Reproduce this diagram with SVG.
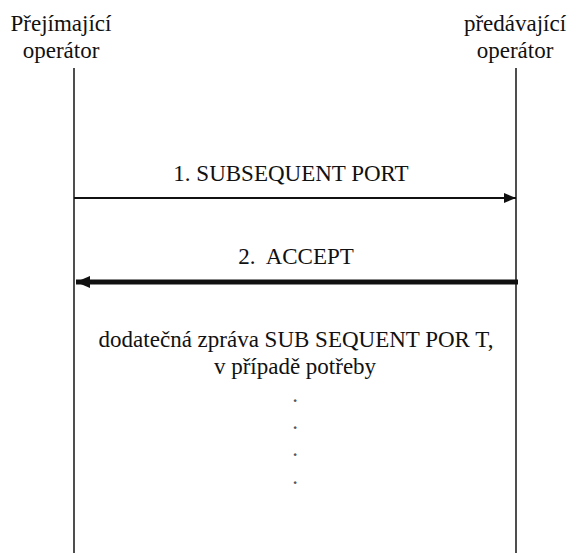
<svg xmlns="http://www.w3.org/2000/svg" width="572" height="553" viewBox="0 0 572 553">
<style>
text{font-family:'Liberation Serif','DejaVu Serif',serif;font-size:23px;fill:#111;text-anchor:middle}
.life{stroke:#222;stroke-width:1.6;fill:none}
.dot{fill:#555}
</style>
<defs>
<marker id="ah" viewBox="0 0 12 10" refX="12" refY="5" markerWidth="12" markerHeight="10" markerUnits="userSpaceOnUse" orient="auto"><path d="M0,0L12,5L0,10z" fill="#111"/></marker>
<marker id="ah2" viewBox="0 0 14 12" refX="14" refY="6" markerWidth="14" markerHeight="12" markerUnits="userSpaceOnUse" orient="auto"><path d="M0,0L14,6L0,12z" fill="#111"/></marker>
</defs>
<rect width="572" height="553" fill="#fff"/>
<g id="node-prejimajici">
<text x="61" y="31">Přejímající</text>
<text x="61" y="58">operátor</text>
</g>
<g id="node-predavajici">
<text x="515" y="31">předávající</text>
<text x="515" y="58">operátor</text>
</g>
<g id="connectors">
<line class="life" x1="74" y1="68" x2="74" y2="553"/>
<line class="life" x1="516" y1="68" x2="516" y2="553"/>
<line x1="74" y1="198" x2="516" y2="198" stroke="#111" stroke-width="2" marker-end="url(#ah)"/>
<line x1="518" y1="282" x2="76" y2="282" stroke="#111" stroke-width="5" marker-end="url(#ah2)"/>
</g>
<g id="labels">
<text x="291" y="181">1. SUBSEQUENT PORT</text>
<text x="296" y="264" xml:space="preserve">2.  ACCEPT</text>
<text x="296" y="347">dodatečná zpráva SUB SEQUENT POR T,</text>
<text x="295" y="374">v případě potřeby</text>
<text class="dot" x="295" y="402">.</text>
<text class="dot" x="295" y="429">.</text>
<text class="dot" x="295" y="456">.</text>
<text class="dot" x="295" y="484">.</text>
</g>
</svg>
